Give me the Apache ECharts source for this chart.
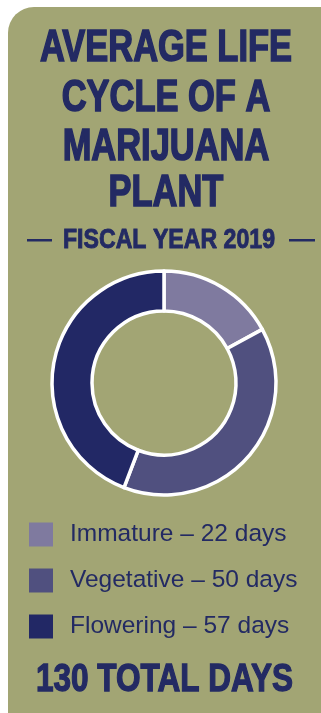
<!DOCTYPE html>
<html>
<head>
<meta charset="utf-8">
<script src="https://cdn.jsdelivr.net/npm/echarts@6/dist/echarts.min.js"></script>
<style>
  html, body { margin: 0; padding: 0; background: #ffffff; }
  #chart { width: 321px; height: 713px; }
</style>
</head>
<body>
<div id="chart"></div>
<script>
// Life-cycle stages and their average durations (days)
const stages = ['Immature', 'Vegetative', 'Flowering'];
const days = [22, 50, 57];
const stageColors = ['#7f7a9f', '#50507f', '#222865'];
const titleLines = ['AVERAGE LIFE', 'CYCLE OF A', 'MARIJUANA', 'PLANT'];
const subtitle = 'FISCAL YEAR 2019';
const totalLabel = '130 TOTAL DAYS';

const navy = '#232a63';
const olive = '#a2a574';
const heading = '"Liberation Sans", Arial, Helvetica, sans-serif';
const plain = '"Liberation Sans", Arial, Helvetica, sans-serif';

// Horizontal squeeze that turns a regular bold face into a condensed look
function squeeze(text, font, width) {
  const ctx = document.createElement('canvas').getContext('2d');
  ctx.font = font;
  return width / ctx.measureText(text).width;
}

const chart = echarts.init(document.getElementById('chart'), null, { renderer: 'canvas' });

const titleFont = 'bold 45px ' + heading;
const titleScale = squeeze(titleLines[0], titleFont, 252);
const titleY = [48.5, 99, 147.5, 194];

const graphics = [
  {
    type: 'rect', z: -10,
    shape: { x: 8, y: 7, width: 340, height: 740, r: [26, 0, 0, 0] },
    style: { fill: olive }
  }
];
titleLines.forEach((t, i) => {
  graphics.push({
    type: 'text', x: 166, y: titleY[i], scaleX: titleScale,
    style: {
      text: t, fill: navy, stroke: navy, lineWidth: 1.6,
      font: titleFont, align: 'center', verticalAlign: 'middle'
    }
  });
});

const subFont = 'bold 27px ' + heading;
const totalFont = 'bold 39px ' + heading;
graphics.push(
  {
    type: 'text', x: 169, y: 240.5, scaleX: squeeze(subtitle, subFont, 212),
    style: {
      text: subtitle, fill: navy, stroke: navy, lineWidth: 0.9,
      font: subFont, align: 'center', verticalAlign: 'middle'
    }
  },
  { type: 'rect', shape: { x: 27, y: 239, width: 25, height: 2.5 }, style: { fill: navy } },
  { type: 'rect', shape: { x: 289, y: 239, width: 26, height: 2.5 }, style: { fill: navy } },
  {
    type: 'text', x: 164.5, y: 680.5, scaleX: squeeze(totalLabel, totalFont, 257),
    style: {
      text: totalLabel, fill: navy, stroke: navy, lineWidth: 1.3,
      font: totalFont, align: 'center', verticalAlign: 'middle'
    }
  }
);

chart.setOption({
  backgroundColor: 'transparent',
  animation: false,
  graphic: graphics,
  legend: {
    orient: 'vertical',
    left: 29,
    top: 522,
    padding: 0,
    itemWidth: 24,
    itemHeight: 24,
    itemGap: 21,
    icon: 'rect',
    itemStyle: { borderWidth: 0 },
    data: stages,
    formatter: name => name + ' \u2013 ' + days[stages.indexOf(name)] + ' days',
    textStyle: { color: navy, fontSize: 24.5, fontFamily: plain, padding: [0, 0, 0, 12] }
  },
  series: [{
    type: 'pie',
    center: [164, 383],
    radius: [72, 112],
    startAngle: 90,
    clockwise: true,
    label: { show: false },
    labelLine: { show: false },
    silent: true,
    itemStyle: { borderColor: '#ffffff', borderWidth: 3.5 },
    data: stages.map((s, i) => ({ name: s, value: days[i], itemStyle: { color: stageColors[i] } }))
  }]
});
</script>
</body>
</html>
